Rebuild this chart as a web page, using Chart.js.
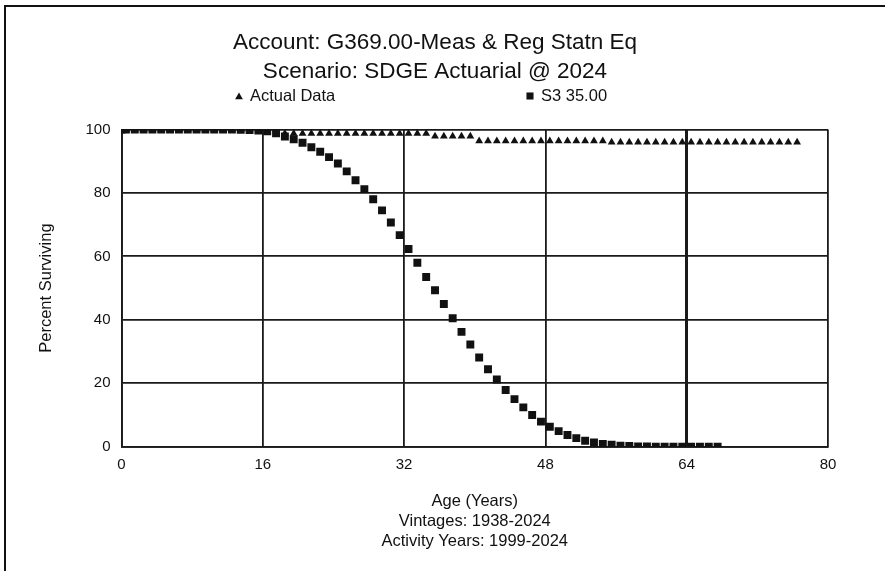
<!DOCTYPE html>
<html>
<head>
<meta charset="utf-8">
<title>G369.00 Survivor Curve</title>
<script src="https://cdn.jsdelivr.net/npm/chart.js@4.4.1/dist/chart.umd.min.js"></script>
<style>
  html, body { margin: 0; padding: 0; background: #fff; overflow: hidden; }
  .frame {
    position: absolute; left: 4px; top: 5px; width: 879px; height: 566px;
    border-top: 2px solid #111; border-left: 2px solid #111;
  }
  #wrap { position: absolute; left: 0; top: 0; width: 870px; height: 571px; }
</style>
</head>
<body>
<div class="frame"></div>
<div id="wrap"><canvas id="survivor"></canvas></div>
<script>
// ages (years) at which both series are plotted
const ages = [0, 0.5, 1.5, 2.5, 3.5, 4.5, 5.5, 6.5, 7.5, 8.5, 9.5,
    10.5, 11.5, 12.5, 13.5, 14.5, 15.5, 16.5, 17.5, 18.5, 19.5,
    20.5, 21.5, 22.5, 23.5, 24.5, 25.5, 26.5, 27.5, 28.5, 29.5,
    30.5, 31.5, 32.5, 33.5, 34.5, 35.5, 36.5, 37.5, 38.5, 39.5,
    40.5, 41.5, 42.5, 43.5, 44.5, 45.5, 46.5, 47.5, 48.5, 49.5,
    50.5, 51.5, 52.5, 53.5, 54.5, 55.5, 56.5, 57.5, 58.5, 59.5,
    60.5, 61.5, 62.5, 63.5, 64.5, 65.5, 66.5, 67.5, 68.5, 69.5,
    70.5, 71.5, 72.5, 73.5, 74.5, 75.5, 76.5];

// observed life table, percent surviving
const actualPct = [100, 100, 100, 100, 100, 100, 100, 100, 100, 100, 100,
    100, 100, 100, 100, 99.9, 99.8, 99.7, 99.6, 98.7, 98.7,
    98.7, 98.7, 98.7, 98.7, 98.7, 98.7, 98.7, 98.7, 98.7, 98.7,
    98.7, 98.7, 98.7, 98.7, 98.7, 97.9, 97.9, 97.9, 97.9, 97.9,
    96.4, 96.4, 96.4, 96.4, 96.4, 96.4, 96.4, 96.4, 96.4, 96.4,
    96.4, 96.4, 96.4, 96.4, 96.4, 96.0, 96.0, 96.0, 96.0, 96.0,
    96.0, 96.0, 96.0, 96.0, 96.0, 96.0, 96.0, 96.0, 96.0, 96.0,
    96.0, 96.0, 96.0, 96.0, 96.0, 96.0, 96.0];

// Iowa S3 curve, 35 year average life
const s3Pct = [100, 100, 100, 100, 100, 100, 100, 100, 100, 100, 100,
    100, 99.99, 99.97, 99.93, 99.85, 99.7, 99.4, 98.8, 97.8, 96.9,
    95.8, 94.4, 93.0, 91.3, 89.3, 86.8, 84.0, 81.2, 78.0, 74.5,
    70.7, 66.7, 62.3, 58.0, 53.5, 49.3, 45.0, 40.5, 36.2, 32.2,
    28.1, 24.4, 21.2, 17.9, 15.0, 12.4, 10.0, 7.9, 6.3, 4.9,
    3.7, 2.7, 1.9, 1.3, 0.9, 0.6, 0.35, 0.2, 0.1, 0.05,
    0, 0, 0, 0, 0, 0, 0, 0];

const xTicks = [0, 16, 32, 48, 64, 80];
const yTicks = [0, 20, 40, 60, 80, 100];

const titleLines = ['Account: G369.00-Meas & Reg Statn Eq', 'Scenario: SDGE Actuarial @ 2024'];
const xTitleLines = ['Age (Years)', 'Vintages: 1938-2024', 'Activity Years: 1999-2024'];

const FONT = "'Liberation Sans', Arial, sans-serif";
const INK = '#111';

function toPoints(xs, ys) {
    return ys.map((y, i) => ({ x: xs[i], y: y }));
}

// legend drawn in the gap under the title
const seriesKey = {
    id: 'seriesKey',
    afterDraw(chart, args, opts) {
        const ctx = chart.ctx;
        ctx.save();
        ctx.fillStyle = INK;
        ctx.font = opts.size + 'px ' + FONT;
        ctx.textBaseline = 'middle';
        opts.items.forEach(item => {
            Chart.helpers.drawPoint(ctx, {
                pointStyle: item.style, radius: item.radius, rotation: 0, borderWidth: 0
            }, item.x, opts.y + item.dy);
            ctx.fillText(item.text, item.x + 11, opts.y);
        });
        ctx.restore();
    }
};

new Chart(document.getElementById('survivor'), {
    type: 'scatter',
    data: {
        datasets: [{
            label: 'Actual Data',
            data: toPoints(ages, actualPct),
            pointStyle: 'triangle',
            pointRadius: 4.5,
            backgroundColor: INK,
            borderWidth: 0,
            order: 1
        }, {
            label: 'S3 35.00',
            data: toPoints(ages, s3Pct),
            pointStyle: 'rect',
            pointRadius: 5.6,
            backgroundColor: INK,
            borderWidth: 0,
            order: 0
        }]
    },
    options: {
        responsive: true,
        maintainAspectRatio: false,
        animation: false,
        layout: { padding: { left: 42, right: 42 } },
        plugins: {
            legend: { display: false },
            tooltip: { enabled: false },
            title: {
                display: true,
                text: titleLines,
                color: INK,
                font: { family: FONT, size: 22.5, weight: 'normal', lineHeight: 1.262 },
                padding: { top: 29, bottom: 43.7 }
            },
            seriesKey: {
                y: 96,
                size: 16.5,
                items: [
                    { text: 'Actual Data', style: 'triangle', radius: 4.5, x: 239, dy: 1 },
                    { text: 'S3 35.00', style: 'rect', radius: 5, x: 530, dy: 0 }
                ]
            }
        },
        scales: {
            x: {
                type: 'linear',
                min: 0,
                max: 80,
                afterBuildTicks: s => { s.ticks = xTicks.map(v => ({ value: v })); },
                afterFit: s => { s.height = 124.3; },
                ticks: { color: INK, padding: 9, font: { family: FONT, size: 15 } },
                grid: {
                    color: '#1a1a1a',
                    lineWidth: c => (c.tick && c.tick.value === 64 ? 3 : 1.8),
                    drawTicks: false
                },
                border: { color: '#1a1a1a', width: 1.8 },
                title: {
                    display: true,
                    text: xTitleLines,
                    color: INK,
                    font: { family: FONT, size: 16.5, lineHeight: 1.2 },
                    padding: { top: 0, bottom: 20 }
                }
            },
            y: {
                min: 0,
                max: 100,
                afterBuildTicks: s => { s.ticks = yTicks.map(v => ({ value: v })); },
                afterFit: s => { s.width = 79.5; },
                ticks: { color: INK, padding: 11, font: { family: FONT, size: 15 } },
                grid: { color: '#1a1a1a', lineWidth: 1.8, drawTicks: false },
                border: { color: '#1a1a1a', width: 1.8 },
                title: {
                    display: true,
                    text: 'Percent Surviving',
                    color: INK,
                    font: { family: FONT, size: 16.5, lineHeight: 1.2 },
                    padding: { top: -5, bottom: 0 }
                }
            }
        }
    },
    plugins: [seriesKey]
});
</script>
</body>
</html>
